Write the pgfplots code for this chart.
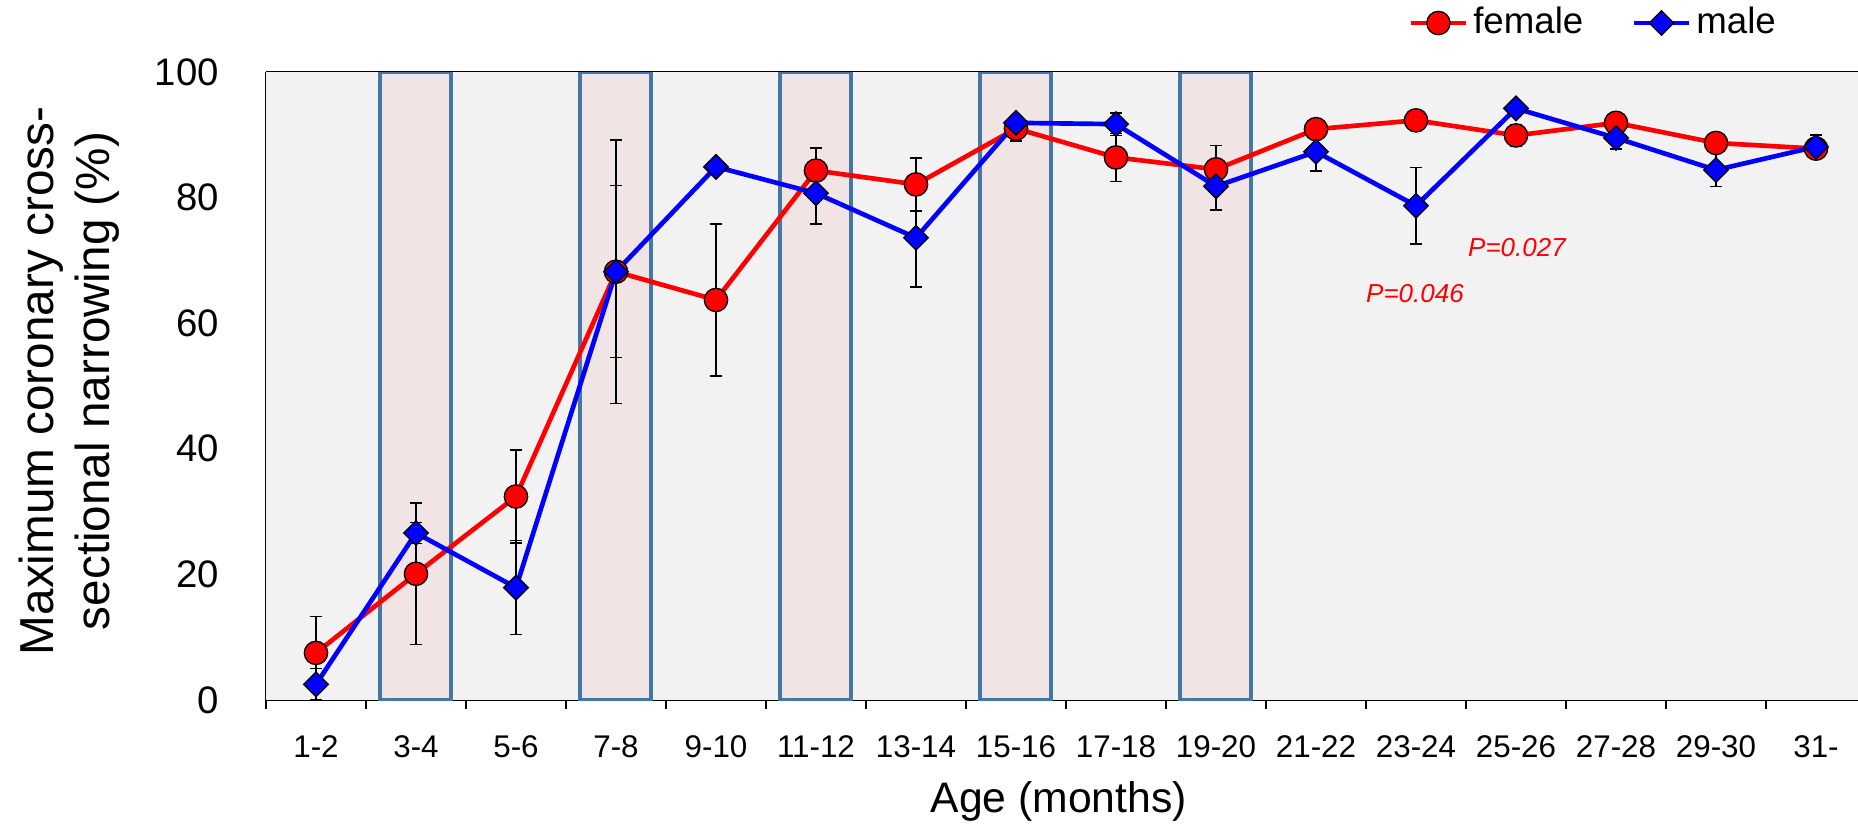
\documentclass[border=0pt]{standalone}
\usepackage{fontspec}
\setmainfont{Liberation Sans}
\usepackage{pgfplots}
\pgfplotsset{compat=1.18}

\definecolor{bggray}{RGB}{242,242,242}
\definecolor{boxfill}{RGB}{240,228,228}
\definecolor{boxline}{RGB}{72,118,163}
\definecolor{gridgray}{RGB}{200,200,200}

% mean and error per age group, x = 0..15
\pgfplotstableread{
x  f     fe    m     me
0  7.5   5.8   2.5   2.5
1  20.1  11.3  26.6  1.7
2  32.4  7.4   17.9  7.5
3  68.2  21.0  68.2  13.7
4  63.7  12.1  84.9  1.0
5  84.3  3.6   80.7  4.9
6  82.1  4.2   73.6  7.8
7  91.0  2.0   91.9  1.2
8  86.4  3.8   91.7  1.8
9  84.5  3.8   81.8  3.8
10 90.9  1.5   87.3  3.1
11 92.3  1.2   78.7  6.1
12 89.9  1.7   94.2  1.0
13 91.9  1.6   89.5  1.8
14 88.7  1.7   84.4  2.6
15 87.8  1.6   88.1  1.9
}\agedata

\pgfplotsset{
  errbars/.style={forget plot, black, only marks, mark=text, text mark={},
    error bars/.cd, y dir=both, y explicit,
    error bar style={black, solid, line width=0.45pt},
    error mark=-,
    error mark options={rotate=90, black, mark size=1.8pt, line width=0.45pt}},
}

\begin{document}
\begin{tikzpicture}
\begin{axis}[
  at={(0,0)}, anchor=south west,
  set layers,
  scale only axis,
  width=477.6pt, height=188.4pt,
  xmin=-0.5, xmax=15.42,
  ymin=0, ymax=100,
  axis x line*=box, axis y line*=left,
  axis line style={black, line width=0.6pt},
  xtick={0,...,15},
  xticklabels={1-2,3-4,5-6,7-8,9-10,11-12,13-14,15-16,17-18,19-20,21-22,23-24,25-26,27-28,29-30,31-},
  minor xtick={-0.5,0.5,...,14.5},
  major x tick style={draw=none},
  minor tick length=2.7pt,
  tick align=outside,
  xtick pos=left, ytick pos=left,
  ytick={0,20,...,100},
  ytick style={draw=none},
  ymajorgrids,
  grid style={gridgray, dash pattern=on 2pt off 1.2pt, line width=0.5pt},
  minor x tick style={black, line width=0.5pt},
  /pgf/number format/assume math mode=true,
  yticklabel style={font=\fontsize{11.5}{13}\selectfont, xshift=-6.4pt},
  xticklabel style={font=\fontsize{9.4}{11}\selectfont, yshift=-3pt},
  xlabel={Age (months)},
  xlabel style={font=\fontsize{12.8}{15}\selectfont, at={(axis description cs:0.498,0)}, anchor=center, yshift=-30.5pt},
  ylabel={Maximum coronary cross-\\sectional narrowing (\%)},
  ylabel style={font=\fontsize{14.3}{17}\selectfont, align=center, at={(axis description cs:-0.1237,0.508)}, anchor=center},
  legend columns=2,
  legend style={at={(axis description cs:0.7173,1.078)}, anchor=west, draw=none, fill=none,
    font=\fontsize{11}{13}\selectfont, inner sep=0pt,
    nodes={inner sep=1.5pt},
    /tikz/every even column/.append style={column sep=13pt}},
  legend image code/.code={\draw[mark repeat=2, mark phase=2] plot coordinates {(0pt,0pt) (8.25pt,0pt) (16.5pt,0pt)};},
]
% panel background and highlighted age groups
\fill[on layer=axis background, bggray] (rel axis cs:0,0) rectangle (rel axis cs:1,1);
\draw[on layer=axis background, boxline, fill=boxfill, line width=1.1pt] (axis cs:0.64,0) rectangle (axis cs:1.35,100);
\draw[on layer=axis background, boxline, fill=boxfill, line width=1.1pt] (axis cs:2.64,0) rectangle (axis cs:3.35,100);
\draw[on layer=axis background, boxline, fill=boxfill, line width=1.1pt] (axis cs:4.64,0) rectangle (axis cs:5.35,100);
\draw[on layer=axis background, boxline, fill=boxfill, line width=1.1pt] (axis cs:6.64,0) rectangle (axis cs:7.35,100);
\draw[on layer=axis background, boxline, fill=boxfill, line width=1.1pt] (axis cs:8.64,0) rectangle (axis cs:9.35,100);

% error bars first, so lines and markers sit on top
\addplot[errbars] table[x=x, y=f, y error=fe] {\agedata};
\addplot[errbars] table[x=x, y=m, y error=me] {\agedata};

\addplot[red, line width=1.4pt, mark=*, mark size=3.5pt,
  mark options={fill=red, draw=black, line width=0.4pt}]
  table[x=x, y=f] {\agedata};
\addlegendentry{female}
\addplot[blue, line width=1.4pt, mark=square*, mark size=2.6pt,
  mark options={rotate=45, fill=blue, draw=black, line width=0.4pt}]
  table[x=x, y=m] {\agedata};
\addlegendentry{male}

\node[red, font=\itshape\fontsize{7.8}{9}\selectfont] at (axis cs:12.01,72.0) {P=0.027};
\node[red, font=\itshape\fontsize{7.8}{9}\selectfont] at (axis cs:10.99,64.8) {P=0.046};
\end{axis}
\pgfresetboundingbox
\path[use as bounding box] (-79.8pt,-36.9pt) rectangle (477.6pt,210pt);
\end{tikzpicture}
\end{document}
